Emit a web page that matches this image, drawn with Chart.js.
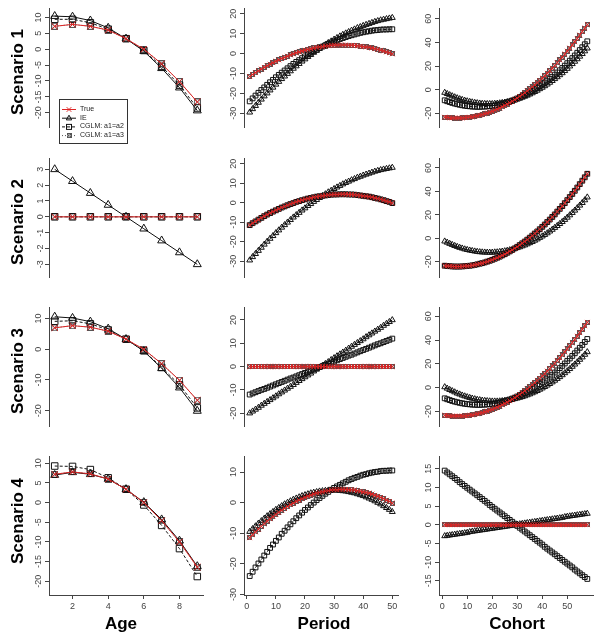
<!DOCTYPE html>
<html>
<head>
<meta charset="utf-8">
<script src="https://cdn.jsdelivr.net/npm/chart.js@4.4.1/dist/chart.umd.min.js"></script>
<style>
  body { margin: 0; background: #fff; }
  #wrap { position: relative; width: 604px; height: 642px; overflow: hidden; font-family: "Liberation Sans", Arial, sans-serif; }
  canvas.panel { position: absolute; }
  .rowlab { position: absolute; width: 140px; height: 20px; line-height: 20px; text-align: center; font-weight: bold; font-size: 17px; transform: rotate(-90deg); }
  .collab { position: absolute; width: 100px; height: 20px; line-height: 20px; text-align: center; font-weight: bold; font-size: 17px; }
  #legend { position: absolute; left: 59px; top: 99px; width: 67px; height: 43px; border: 1px solid #333; background: #fff; will-change: transform; }
  #legend canvas { position: absolute; left: 0; top: 0; }
  .lg { position: absolute; left: 20px; font-size: 7px; line-height: 8px; white-space: nowrap; color: #222; }
</style>
</head>
<body>
<div id="wrap"></div>
<script>
// x values
const age = [1, 2, 3, 4, 5, 6, 7, 8, 9];
const period = [1,2,3,4,5,6,7,8,9,10,11,12,13,14,15,16,17,18,19,20,21,22,23,24,25,26,27,28,29,30,
  31,32,33,34,35,36,37,38,39,40,41,42,43,44,45,46,47,48,49,50];
const cohort = [1,2,3,4,5,6,7,8,9,10,11,12,13,14,15,16,17,18,19,20,21,22,23,24,25,26,27,28,29,30,
  31,32,33,34,35,36,37,38,39,40,41,42,43,44,45,46,47,48,49,50,51,52,53,54,55,56,57,58];

const seriesNames = ["True", "IE", "CGLM: a1=a2", "CGLM: a1=a3"];
const rowNames = ["Scenario 1", "Scenario 2", "Scenario 3", "Scenario 4"];
const colNames = ["Age", "Period", "Cohort"];

// age effects
const trueAge1 = [7.2, 7.8, 7.2, 6.0, 3.3, 0.0, -4.6, -10.2, -16.6];
const ieAge1 = [10.4, 10.2, 9.0, 6.7, 3.3, -0.6, -6.0, -12.1, -19.3];
const a12Age1 = [9.4, 9.4, 8.3, 6.3, 3.3, -0.4, -5.4, -11.3, -18.5];
const ieAge2 = [3, 2.25, 1.5, 0.75, 0, -0.75, -1.5, -2.25, -3];
const zeroAge = [0, 0, 0, 0, 0, 0, 0, 0, 0];
const trueAge3 = [7.0, 7.7, 7.2, 5.9, 3.3, 0.0, -4.7, -10.1, -16.6];
const ieAge3 = [10.6, 10.2, 9.0, 6.7, 3.3, -0.6, -6.2, -12.5, -20.1];
const a12Age3 = [9.1, 9.3, 8.3, 6.3, 3.3, -0.5, -5.9, -11.6, -19.1];
const trueAge4 = [7.2, 7.8, 7.3, 6.0, 3.4, 0.0, -4.6, -10.0, -16.4];
const ieAge4 = [7.0, 7.7, 7.2, 6.0, 3.4, 0.1, -4.3, -9.7, -16.2];
const a12Age4 = [9.3, 9.2, 8.4, 6.3, 3.4, -0.6, -5.8, -11.7, -18.8];

// period effects
const truePeriod = [-11.5,-10.5,-9.6,-8.7,-7.8,-6.9,-6.1,-5.3,-4.6,-3.9,-3.2,-2.5,-1.9,-1.3,-0.7,-0.2,0.4,0.8,1.3,1.7,
  2.1,2.4,2.8,3.1,3.3,3.5,3.7,3.9,4.1,4.2,4.2,4.3,4.3,4.3,4.2,4.2,4.1,3.9,3.7,3.5,3.3,3.1,2.8,2.4,2.1,1.7,1.3,0.8,0.4,-0.2];
const iePeriod1 = [-29.5,-27.8,-26.2,-24.6,-23.0,-21.4,-19.9,-18.4,-17.0,-15.5,-14.1,-12.7,-11.4,-10.1,-8.8,-7.5,-6.3,-5.1,-3.9,-2.8,
  -1.6,-0.6,0.5,1.5,2.5,3.5,4.4,5.4,6.2,7.1,7.9,8.7,9.5,10.2,10.9,11.6,12.2,12.9,13.4,14.0,14.5,15.0,15.5,16.0,16.4,16.8,17.1,17.4,17.7,18.0];
const a12Period1 = [-24.0,-22.5,-21.1,-19.7,-18.3,-17.0,-15.7,-14.4,-13.2,-11.9,-10.7,-9.6,-8.5,-7.4,-6.3,-5.2,-4.2,-3.3,-2.3,-1.4,
  -0.5,0.4,1.2,2.0,2.8,3.5,4.2,4.9,5.5,6.2,6.7,7.3,7.8,8.3,8.8,9.2,9.6,10.0,10.4,10.7,11.0,11.2,11.5,11.7,11.8,12.0,12.1,12.1,12.2,12.2];
const zeroPeriod = [0,0,0,0,0,0,0,0,0,0,0,0,0,0,0,0,0,0,0,0,0,0,0,0,0,0,0,0,0,0,0,0,0,0,0,0,0,0,0,0,0,0,0,0,0,0,0,0,0,0];
const iePeriod3 = [-20.0,-19.2,-18.4,-17.6,-16.7,-15.9,-15.1,-14.3,-13.5,-12.7,-11.8,-11.0,-10.2,-9.4,-8.6,-7.8,-6.9,-6.1,-5.3,-4.5,
  -3.7,-2.9,-2.0,-1.2,-0.4,0.4,1.2,2.0,2.9,3.7,4.5,5.3,6.1,6.9,7.8,8.6,9.4,10.2,11.0,11.8,12.7,13.5,14.3,15.1,15.9,16.7,17.6,18.4,19.2,20.0];
const a12Period3 = [-12.0,-11.5,-11.0,-10.5,-10.0,-9.6,-9.1,-8.6,-8.1,-7.6,-7.1,-6.6,-6.1,-5.6,-5.1,-4.7,-4.2,-3.7,-3.2,-2.7,
  -2.2,-1.7,-1.2,-0.7,-0.2,0.2,0.7,1.2,1.7,2.2,2.7,3.2,3.7,4.2,4.7,5.1,5.6,6.1,6.6,7.1,7.6,8.1,8.6,9.1,9.6,10.0,10.5,11.0,11.5,12.0];
const iePeriod4 = [-9.5,-8.6,-7.7,-6.8,-6.0,-5.2,-4.4,-3.7,-3.0,-2.3,-1.7,-1.1,-0.5,0.0,0.5,1.0,1.4,1.8,2.2,2.5,
  2.8,3.1,3.3,3.5,3.7,3.8,3.9,4.0,4.0,4.0,4.0,3.9,3.8,3.7,3.5,3.3,3.1,2.8,2.5,2.2,1.8,1.4,1.0,0.5,0.0,-0.5,-1.1,-1.7,-2.3,-3.0];
const a12Period4 = [-24.0,-22.6,-21.2,-19.9,-18.6,-17.3,-16.1,-14.8,-13.7,-12.5,-11.4,-10.2,-9.2,-8.1,-7.1,-6.1,-5.1,-4.2,-3.3,-2.4,
  -1.6,-0.8,0.0,0.8,1.5,2.2,2.9,3.5,4.2,4.8,5.3,5.8,6.3,6.8,7.3,7.7,8.1,8.4,8.8,9.1,9.3,9.6,9.8,10.0,10.1,10.3,10.4,10.4,10.5,10.5];

// cohort effects
const trueCohort = [-23.3,-23.5,-23.7,-23.9,-24.0,-24.0,-24.0,-23.9,-23.7,-23.5,-23.3,-23.0,-22.6,-22.1,-21.6,-21.1,-20.5,-19.8,-19.1,-18.3,
  -17.4,-16.5,-15.6,-14.5,-13.5,-12.3,-11.1,-9.9,-8.5,-7.2,-5.7,-4.2,-2.7,-1.1,0.6,2.3,4.1,5.9,7.8,9.8,
  11.8,13.9,16.0,18.2,20.4,22.8,25.1,27.5,30.0,32.6,35.2,37.8,40.5,43.3,46.2,49.1,52.0,55.0];
const ieCohort1 = [-2.5,-3.5,-4.5,-5.4,-6.3,-7.1,-7.9,-8.5,-9.2,-9.7,-10.2,-10.6,-11.0,-11.3,-11.6,-11.8,-11.9,-12.0,-12.0,-12.0,
  -11.8,-11.7,-11.4,-11.1,-10.8,-10.4,-9.9,-9.4,-8.8,-8.1,-7.4,-6.6,-5.8,-4.9,-3.9,-2.9,-1.8,-0.7,0.6,1.8,
  3.1,4.5,6.0,7.5,9.1,10.7,12.4,14.1,15.9,17.8,19.8,21.8,23.8,25.9,28.1,30.3,32.6,35.0];
const a12Cohort1 = [-9.0,-9.8,-10.5,-11.2,-11.8,-12.3,-12.8,-13.2,-13.6,-13.9,-14.1,-14.3,-14.4,-14.5,-14.5,-14.4,-14.3,-14.2,-13.9,-13.7,
  -13.3,-12.9,-12.4,-11.9,-11.3,-10.7,-10.0,-9.2,-8.4,-7.5,-6.6,-5.6,-4.6,-3.5,-2.3,-1.1,0.2,1.6,3.0,4.5,
  6.0,7.6,9.2,10.9,12.7,14.5,16.4,18.3,20.3,22.4,24.5,26.7,28.9,31.2,33.5,35.9,38.4,40.9];
const ieCohort3 = [0.5,-0.7,-1.8,-2.8,-3.8,-4.8,-5.6,-6.5,-7.2,-7.9,-8.5,-9.1,-9.6,-10.1,-10.4,-10.8,-11.0,-11.2,-11.4,-11.5,
  -11.5,-11.5,-11.4,-11.2,-11.0,-10.7,-10.4,-10.0,-9.5,-9.0,-8.4,-7.8,-7.1,-6.3,-5.5,-4.6,-3.7,-2.7,-1.6,-0.5,
  0.7,1.9,3.2,4.6,6.0,7.5,9.0,10.6,12.3,14.0,15.8,17.7,19.6,21.5,23.6,25.6,27.8,30.0];
const zeroCohort = [0,0,0,0,0,0,0,0,0,0,0,0,0,0,0,0,0,0,0,0,0,0,0,0,0,0,0,0,0,0,0,0,0,0,0,0,0,0,0,0,0,0,0,0,0,0,0,0,0,0,0,0,0,0,0,0,0,0];
const ieCohort4 = [-3.0,-2.9,-2.8,-2.7,-2.6,-2.5,-2.4,-2.3,-2.2,-2.1,-1.9,-1.8,-1.7,-1.6,-1.5,-1.4,-1.3,-1.2,-1.1,-1.0,
  -0.9,-0.8,-0.7,-0.6,-0.5,-0.4,-0.3,-0.2,-0.1,0.1,0.2,0.3,0.4,0.5,0.6,0.7,0.8,0.9,1.0,1.1,
  1.2,1.3,1.4,1.5,1.6,1.7,1.8,1.9,2.1,2.2,2.3,2.4,2.5,2.6,2.7,2.8,2.9,3.0];
const a12Cohort4 = [14.5,14.0,13.5,13.0,12.5,12.0,11.4,10.9,10.4,9.9,9.4,8.9,8.4,7.9,7.4,6.9,6.4,5.9,5.3,4.8,
  4.3,3.8,3.3,2.8,2.3,1.8,1.3,0.8,0.3,-0.3,-0.8,-1.3,-1.8,-2.3,-2.8,-3.3,-3.8,-4.3,-4.8,-5.3,
  -5.9,-6.4,-6.9,-7.4,-7.9,-8.4,-8.9,-9.4,-9.9,-10.4,-10.9,-11.4,-12.0,-12.5,-13.0,-13.5,-14.0,-14.5];

// tick labels
const ageTicks = [2, 4, 6, 8];
const periodTicks = [0, 10, 20, 30, 40, 50];
const cohortTicks = [0, 10, 20, 30, 40, 50];
const yTicksS1 = [[-20, -15, -10, -5, 0, 5, 10], [-30, -20, -10, 0, 10, 20], [-20, 0, 20, 40, 60]];
const yTicksS2 = [[-3, -2, -1, 0, 1, 2, 3], [-30, -20, -10, 0, 10, 20], [-20, 0, 20, 40, 60]];
const yTicksS3 = [[-20, -10, 0, 10], [-20, -10, 0, 10, 20], [-20, 0, 20, 40, 60]];
const yTicksS4 = [[-20, -15, -10, -5, 0, 5, 10], [-30, -20, -10, 0, 10], [-15, -10, -5, 0, 5, 10, 15]];

// layout
const colLeft = [49, 244, 439];
const colW = 154;
const rowTop = [6, 156, 305, 454];
const rowH = 141;
const xRange = [[0.68, 9.32], [-0.96, 51.96], [-1.28, 60.28]];
const yRange = [
  [[-24.47, 12.83], [-36.87, 22.68], [-31.6, 68.75]],
  [[-3.80, 3.69], [-38.1, 22.7], [-32.9, 68.1]],
  [[-25.0, 13.65], [-25.5, 25.4], [-32.3, 67.5]],
  [[-23.5, 11.75], [-30.2, 15.1], [-18.8, 18.3]]
];

const xs = [age, period, cohort];
const xTicks = [ageTicks, periodTicks, cohortTicks];
const yTicks = [yTicksS1, yTicksS2, yTicksS3, yTicksS4];
const series = [
  [[trueAge1, ieAge1, a12Age1, trueAge1], [truePeriod, iePeriod1, a12Period1, truePeriod], [trueCohort, ieCohort1, a12Cohort1, trueCohort]],
  [[zeroAge, ieAge2, zeroAge, zeroAge], [truePeriod, iePeriod1, truePeriod, truePeriod], [trueCohort, ieCohort1, trueCohort, trueCohort]],
  [[trueAge3, ieAge3, a12Age3, trueAge3], [zeroPeriod, iePeriod3, a12Period3, zeroPeriod], [trueCohort, ieCohort3, a12Cohort1, trueCohort]],
  [[trueAge4, ieAge4, a12Age4, trueAge4], [truePeriod, iePeriod4, a12Period4, truePeriod], [zeroCohort, ieCohort4, a12Cohort4, zeroCohort]]
];

const RED = '#dd2424', BLACK = '#111', GREY = '#555';
const FONT = '"Liberation Sans", Arial, sans-serif';

// square with a cross (R pch 7)
function boxX(size, color) {
  const c = document.createElement('canvas');
  c.width = size; c.height = size;
  const g = c.getContext('2d');
  g.strokeStyle = color; g.lineWidth = 1;
  g.strokeRect(0.5, 0.5, size - 1, size - 1);
  g.beginPath();
  g.moveTo(0.5, 0.5); g.lineTo(size - 0.5, size - 0.5);
  g.moveTo(size - 0.5, 0.5); g.lineTo(0.5, size - 0.5);
  g.stroke();
  return c;
}
const boxBig = boxX(7, GREY), boxSmall = boxX(5, GREY);

function styles(big) {
  const r = big ? 4.6 : 3.4;
  return [
    { color: RED, point: 'crossRot', radius: big ? 4.4 : 3.3, dash: [] },
    { color: BLACK, point: 'triangle', radius: r, dash: [] },
    { color: BLACK, point: 'rect', radius: r, dash: [3, 2] },
    { color: GREY, point: big ? boxBig : boxSmall, radius: r, dash: [1, 2] }
  ];
}

const wrap = document.getElementById('wrap');

for (let r = 0; r < 4; r++) {
  for (let c = 0; c < 3; c++) {
    const last = r === 3;
    const cv = document.createElement('canvas');
    cv.className = 'panel';
    const w = 24 + colW + 3, h = 3 + rowH + (last ? 20 : 3);
    cv.width = w; cv.height = h;
    cv.style.left = (colLeft[c] - 24) + 'px';
    cv.style.top = (rowTop[r] - 3) + 'px';
    wrap.appendChild(cv);

    const st = styles(c === 0);
    const xv = xs[c];
    const datasets = series[r][c].map((vals, k) => ({
      label: seriesNames[k],
      data: xv.map((x, i) => ({ x: x, y: vals[i] })),
      borderColor: st[k].color,
      borderWidth: 1,
      borderDash: st[k].dash,
      pointStyle: st[k].point,
      pointRadius: st[k].radius,
      pointBorderColor: st[k].color,
      pointBackgroundColor: 'rgba(0,0,0,0)',
      pointBorderWidth: 1,
      fill: false,
      tension: 0,
      clip: 8
    }));

    new Chart(cv, {
      type: 'line',
      data: { datasets: datasets },
      options: {
        responsive: false,
        animation: false,
        devicePixelRatio: 1,
        events: [],
        layout: { padding: { left: 0, right: 3, top: 3, bottom: last ? 0 : 3 }, autoPadding: false },
        plugins: { legend: { display: false }, tooltip: { enabled: false } },
        scales: {
          x: {
            type: 'linear', min: xRange[c][0], max: xRange[c][1], display: last,
            grid: { display: true, drawOnChartArea: false, drawTicks: true, tickLength: 4, color: '#444' },
            border: { display: true, color: '#444', width: 1 },
            ticks: { font: { size: 9, family: FONT }, color: '#444', padding: 2, maxRotation: 0, autoSkip: false, callback: v => String(v) },
            afterBuildTicks: s => { s.ticks = xTicks[c].map(v => ({ value: v })); },
            afterFit: s => { s.height = 20; }
          },
          y: {
            type: 'linear', min: yRange[r][c][0], max: yRange[r][c][1],
            grid: { display: true, drawOnChartArea: false, drawTicks: true, tickLength: 4, color: '#444' },
            border: { display: true, color: '#444', width: 1 },
            ticks: { font: { size: 9, family: FONT }, color: '#444', padding: 0, minRotation: 90, maxRotation: 90, crossAlign: 'center', autoSkip: false, callback: v => String(v) },
            afterBuildTicks: s => { s.ticks = yTicks[r][c].map(v => ({ value: v })); },
            afterFit: s => { s.width = 24; }
          }
        }
      }
    });
  }
}

// row and column labels
const rowCenter = [72, 222, 371, 521];
rowNames.forEach((t, i) => {
  const d = document.createElement('div');
  d.className = 'rowlab';
  d.textContent = t;
  d.style.left = (17.5 - 70) + 'px';
  d.style.top = (rowCenter[i] - 10) + 'px';
  wrap.appendChild(d);
});
const colCenter = [121, 324, 517];
colNames.forEach((t, i) => {
  const d = document.createElement('div');
  d.className = 'collab';
  d.textContent = t;
  d.style.left = (colCenter[i] - 50) + 'px';
  d.style.top = (624 - 10) + 'px';
  wrap.appendChild(d);
});

// legend in the first panel
const lg = document.createElement('div');
lg.id = 'legend';
wrap.appendChild(lg);
const lc = document.createElement('canvas');
lc.width = 19; lc.height = 43;
lg.appendChild(lc);
const g = lc.getContext('2d');
const lgY = [9, 17.7, 26.4, 35.1];
const lgStyle = styles(false);
lgY.forEach((y, k) => {
  const s = lgStyle[k];
  g.strokeStyle = s.color; g.lineWidth = 1;
  g.setLineDash(s.dash);
  g.beginPath(); g.moveTo(2, y + 0.5); g.lineTo(16, y + 0.5); g.stroke();
  g.setLineDash([]);
  const cx = 9, cy = y + 0.5;
  g.beginPath();
  if (k === 0) {
    g.moveTo(cx - 2.3, cy - 2.3); g.lineTo(cx + 2.3, cy + 2.3);
    g.moveTo(cx + 2.3, cy - 2.3); g.lineTo(cx - 2.3, cy + 2.3);
    g.stroke();
  } else if (k === 1) {
    g.moveTo(cx, cy - 3); g.lineTo(cx + 2.7, cy + 1.7); g.lineTo(cx - 2.7, cy + 1.7); g.closePath(); g.stroke();
  } else if (k === 2) {
    g.strokeRect(cx - 2.5, cy - 2.5, 5, 5);
  } else {
    g.drawImage(boxSmall, cx - 2.5, cy - 2.5);
  }
  const t = document.createElement('div');
  t.className = 'lg';
  t.textContent = seriesNames[k];
  t.style.top = (y - 4) + 'px';
  lg.appendChild(t);
});
</script>
</body>
</html>
